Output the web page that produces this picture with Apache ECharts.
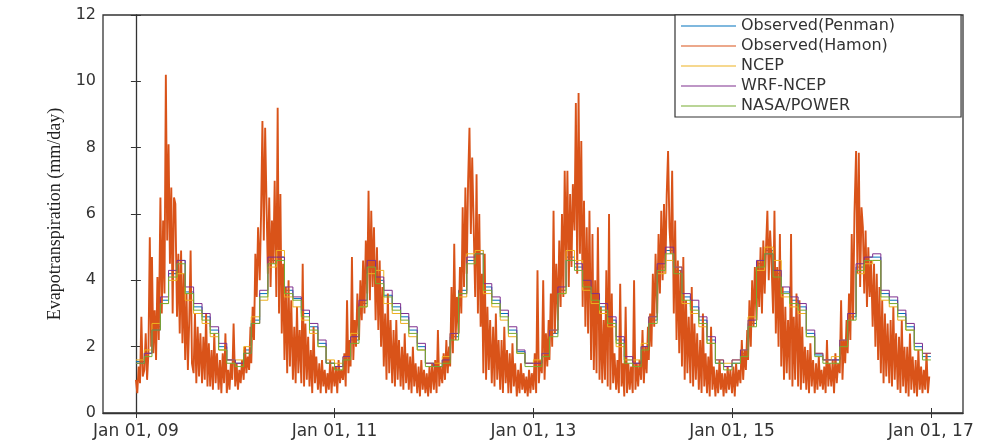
<!DOCTYPE html>
<html><head><meta charset="utf-8">
<script src="https://cdn.jsdelivr.net/npm/echarts@6/dist/echarts.min.js"></script>
<style>html,body{margin:0;padding:0;background:#fff}#c{width:993px;height:443px}</style>
</head><body><div id="c"></div>
<script>
// ---------------- data ----------------
const seriesNames = ['Observed(Penman)', 'Observed(Hamon)', 'NCEP', 'WRF-NCEP', 'NASA/POWER'];
const firstYear = 2009;
// observed (Hamon): six readings per month, on these days of the month
const subDays = [1, 6, 11, 16, 21, 26];
const hamon = [
  // 2009
  1.0,0.6,1.4,0.9,2.9,1.1,  1.3,2.4,1.0,1.8,5.3,2.0,  4.7,1.8,3.1,1.6,4.1,2.2,  6.5,3.0,5.8,3.6,10.2,5.2,
  8.1,4.5,6.8,3.0,6.5,6.3,  2.9,4.8,2.4,4.9,2.1,4.2,  1.6,3.6,1.3,2.8,4.9,1.5,  1.2,3.0,0.9,2.6,1.1,2.4,
  0.9,2.3,1.0,3.0,0.8,2.1,  0.8,1.9,0.7,2.4,0.9,1.8,  0.7,1.6,0.6,1.8,0.9,2.4,  0.6,1.3,0.7,1.5,1.0,2.7,
  // 2010
  0.8,1.5,0.7,1.3,0.9,1.6,  1.0,2.0,1.2,1.7,1.3,2.6,  1.5,3.2,2.2,4.8,3.5,5.6,  4.0,6.0,8.8,5.2,8.6,6.3,
  4.2,6.5,3.8,5.8,4.5,7.0,  3.5,9.2,3.0,6.6,2.4,4.5,  1.6,3.8,1.2,4.0,1.4,3.4,  1.0,2.6,0.9,3.2,1.2,2.5,
  0.9,4.5,0.8,2.7,1.0,2.3,  0.8,1.9,0.6,2.6,0.9,1.7,  0.7,1.5,0.6,1.6,0.8,1.3,  0.6,1.2,0.7,1.6,0.6,1.4,
  // 2011
  0.8,1.4,0.6,1.6,0.9,1.3,  1.0,1.8,0.8,3.4,1.2,2.2,  1.4,4.7,1.6,2.8,2.0,3.6,  2.2,4.0,2.8,4.6,3.0,5.2,
  3.6,6.7,3.4,6.1,3.8,5.6,  2.8,5.0,2.5,4.6,2.0,3.8,  1.4,3.0,1.0,3.6,1.2,2.8,  0.9,2.5,0.8,2.8,1.0,2.2,
  0.8,2.0,0.7,2.4,0.9,1.8,  0.7,1.7,0.6,2.0,0.8,1.5,  0.6,1.4,0.5,1.6,0.7,1.3,  0.6,1.2,0.5,1.4,0.6,1.5,
  // 2012
  0.7,1.6,0.6,2.5,0.8,1.4,  0.9,1.8,1.0,2.2,1.2,2.0,  1.4,3.8,1.8,5.1,2.2,3.5,  2.4,4.4,3.0,6.2,3.8,6.8,
  4.2,7.0,8.6,5.4,7.7,5.8,  3.5,7.2,3.0,6.0,2.6,4.2,  1.2,4.8,1.0,3.2,1.3,2.8,  0.9,2.6,0.8,3.0,1.0,2.2,
  0.7,2.2,0.6,2.6,0.9,1.9,  0.6,1.8,0.6,2.1,0.8,1.5,  0.5,1.3,0.6,1.5,0.7,1.2,  0.6,1.1,0.5,1.3,0.6,1.2,
  // 2013
  0.7,1.8,0.6,4.3,0.9,1.6,  1.2,4.0,1.0,2.4,1.4,2.8,  1.6,3.6,2.0,6.1,2.4,4.5,  2.8,5.2,3.2,6.0,3.5,7.3,
  4.6,7.3,3.8,6.6,4.4,6.9,  5.5,9.35,4.2,9.65,4.8,8.2,  3.2,6.4,2.6,5.6,2.4,6.1,  1.6,5.4,1.3,4.0,1.2,5.6,
  1.0,3.2,0.9,2.8,1.0,4.3,  0.8,6.0,0.7,3.6,0.9,1.8,  0.7,1.6,0.6,3.9,0.8,1.5,  0.5,3.2,0.6,1.5,0.7,1.4,
  // 2014
  0.6,4.0,0.7,1.5,0.8,1.6,  1.0,2.5,0.9,2.0,1.2,2.6,  1.6,3.0,2.0,4.2,2.6,4.8,  3.0,5.4,3.6,6.1,4.0,6.3,
  4.2,6.6,7.9,5.6,4.8,7.3,  3.0,5.8,2.2,4.6,1.8,4.3,  1.4,4.7,1.0,3.4,1.2,2.9,  0.9,3.8,0.8,2.7,1.0,2.4,
  0.7,2.2,0.6,3.0,0.8,1.8,  0.6,1.7,0.5,2.6,0.7,1.4,  0.5,1.3,0.6,1.6,0.7,1.2,  0.5,1.2,0.6,1.4,0.7,1.3,
  // 2015
  0.6,1.4,0.5,1.5,0.8,1.3,  0.9,2.2,1.0,1.9,1.3,2.5,  1.6,3.4,2.0,4.0,2.6,4.4,  2.8,4.6,3.2,5.0,3.0,5.2,
  3.6,5.0,6.1,4.0,5.5,4.6,  3.0,6.1,2.4,4.4,2.0,5.4,  1.4,3.8,1.0,3.2,1.2,2.8,  1.0,5.4,0.8,2.9,1.0,3.6,
  0.8,3.4,0.7,2.6,0.9,2.0,  0.7,1.9,0.6,2.1,0.8,1.6,  0.6,1.5,0.7,1.7,0.8,1.3,  0.7,1.4,0.6,2.2,0.8,1.5,
  // 2016
  0.8,1.6,0.6,1.8,0.9,1.5,  1.2,3.4,1.0,2.2,1.5,2.8,  1.8,3.6,2.2,5.4,2.8,6.0,  7.9,4.2,7.85,3.8,6.2,5.6,
  3.6,5.5,3.2,5.0,3.5,4.6,  2.6,4.5,2.0,4.2,1.6,3.8,  1.2,3.4,0.9,3.0,1.1,2.7,  0.9,2.8,0.8,3.2,1.0,2.4,
  0.7,2.3,0.6,2.8,0.8,2.0,  0.6,2.0,0.5,2.4,0.7,1.7,  0.6,1.6,0.5,1.9,0.7,1.4,  0.6,1.3,0.7,1.8,0.6,1.1
];
// monthly means, Jan 2009 ... Dec 2016
const penman = [
  1.55,1.8,2.6,3.4,4.2,4.6,3.65,3.2,2.9,2.5,2.0,1.6,
  1.5,1.9,2.8,3.6,4.6,4.7,3.7,3.45,3.0,2.6,2.1,1.5,
  1.4,1.6,2.2,3.3,4.5,4.0,3.55,3.2,2.9,2.5,2.0,1.5,
  1.4,1.6,2.3,3.7,4.6,4.9,3.8,3.4,3.0,2.5,1.85,1.5,
  1.5,1.7,2.4,3.7,4.7,4.4,3.9,3.5,3.2,2.8,2.2,1.6,
  1.5,2.0,2.8,4.4,4.9,4.3,3.5,3.2,2.8,2.2,1.5,1.4,
  1.5,1.8,2.7,4.5,4.9,4.2,3.65,3.4,3.2,2.4,1.75,1.6,
  1.6,2.1,2.9,4.4,4.7,4.7,3.6,3.4,3.0,2.6,2.0,1.7
];
const ncep = [
  1.6,1.9,2.7,3.3,4.0,4.2,3.4,3.0,2.7,2.3,1.9,1.6,
  1.6,2.0,2.9,3.4,4.4,4.9,3.5,3.2,2.8,2.4,2.0,1.6,
  1.5,1.7,2.4,3.2,4.2,4.3,3.3,3.0,2.7,2.3,1.9,1.5,
  1.5,1.7,2.4,3.5,4.8,4.9,3.6,3.2,2.8,2.3,1.8,1.5,
  1.6,1.8,2.5,3.6,4.9,4.6,3.7,3.3,3.0,2.6,2.0,1.6,
  1.6,2.1,2.9,4.2,4.6,4.4,3.3,3.0,2.6,2.1,1.6,1.5,
  1.6,1.9,2.9,4.3,5.0,4.6,3.5,3.2,3.0,2.3,1.8,1.6,
  1.7,2.2,3.0,4.2,4.5,4.6,3.4,3.2,2.8,2.5,1.9,1.8
];
const wrf = [
  1.5,1.8,2.5,3.5,4.3,4.6,3.8,3.3,3.0,2.6,2.1,1.6,
  1.5,1.8,2.7,3.7,4.7,4.7,3.8,3.5,3.1,2.7,2.2,1.5,
  1.4,1.7,2.3,3.4,4.6,4.1,3.7,3.3,3.0,2.6,2.1,1.5,
  1.4,1.6,2.4,3.6,4.7,4.8,3.9,3.5,3.1,2.6,1.9,1.5,
  1.5,1.8,2.5,3.8,4.6,4.5,4.0,3.6,3.3,2.9,2.3,1.7,
  1.5,2.0,2.9,4.5,5.0,4.4,3.6,3.4,2.9,2.3,1.6,1.4,
  1.6,1.9,2.8,4.6,4.8,4.3,3.8,3.5,3.3,2.5,1.8,1.6,
  1.6,2.2,3.0,4.5,4.7,4.8,3.7,3.5,3.1,2.7,2.1,1.8
];
const nasa = [
  1.5,1.7,2.5,3.3,4.1,4.5,3.6,3.1,2.8,2.4,1.9,1.5,
  1.4,1.8,2.7,3.5,4.5,4.6,3.6,3.4,2.9,2.5,2.0,1.5,
  1.3,1.6,2.1,3.2,4.4,3.9,3.5,3.1,2.8,2.4,1.9,1.4,
  1.4,1.5,2.2,3.6,4.5,4.8,3.7,3.3,2.9,2.4,1.8,1.4,
  1.4,1.7,2.3,3.6,4.6,4.3,3.8,3.4,3.1,2.7,2.1,1.5,
  1.4,1.9,2.7,4.3,4.8,4.2,3.4,3.1,2.7,2.1,1.5,1.3,
  1.5,1.7,2.6,4.4,4.8,4.1,3.6,3.3,3.1,2.3,1.7,1.5,
  1.5,2.0,2.8,4.3,4.6,4.6,3.5,3.3,2.9,2.5,1.9,1.6
];
const xTickYears = [2009, 2011, 2013, 2015, 2017];
const xTickLabels = ['Jan 01, 09', 'Jan 01, 11', 'Jan 01, 13', 'Jan 01, 15', 'Jan 01, 17'];
const yMin = 0, yMax = 12, yStep = 2;
const colors = ['#0072BD', '#D95319', '#EDB120', '#7E2F8E', '#77AC30'];

// ---------------- build ----------------
const DAY = 86400000;
const T0 = Date.UTC(firstYear, 0, 1);
const dayNum = (y, m, d) => Math.round((Date.UTC(y, m, d) - T0) / DAY);
const hamonPts = hamon.map((v, i) => {
  const mi = Math.floor(i / subDays.length), k = i % subDays.length;
  return [dayNum(firstYear + Math.floor(mi / 12), mi % 12, subDays[k]), v];
});
const monthly = arr => {
  const pts = arr.map((v, i) => [dayNum(firstYear + Math.floor(i / 12), i % 12, 1), v]);
  const n = arr.length;
  pts.push([dayNum(firstYear + Math.floor(n / 12), n % 12, 1), arr[n - 1]]);
  return pts;
};
const xTicks = xTickYears.map(y => dayNum(y, 0, 1));
const tickLabelOf = v => { const i = xTicks.indexOf(v); return i >= 0 ? xTickLabels[i] : ''; };

const axisCol = '#333';
const labFont = 'DejaVu Sans, sans-serif';
const xMin = -121, xMax = 3040;

const mk = (name, data, color, step, width) => ({
  name, type: 'line', data, step: step ? 'end' : false,
  symbol: 'none', showSymbol: false,
  lineStyle: { color, width }, itemStyle: { color }, color,
  animation: false, silent: true, z: 2
});

const chart = echarts.init(document.getElementById('c'), null, { renderer: 'canvas' });
chart.setOption({
  backgroundColor: '#fff',
  animation: false,
  grid: { left: 103, right: 30, top: 15, bottom: 30, show: true, borderColor: axisCol, borderWidth: 1.3, backgroundColor: 'transparent' },
  legend: {
    orient: 'vertical', left: 675, top: 15,
    data: seriesNames,
    icon: 'rect',
    itemWidth: 55, itemHeight: 1, itemGap: 4,
    padding: [3, 66, 3, 6],
    borderColor: axisCol, borderWidth: 1.2, backgroundColor: '#fff',
    textStyle: { fontFamily: labFont, fontSize: 16, color: '#333', lineHeight: 15 },
    z: 10
  },
  xAxis: [{
    type: 'value', min: xMin, max: xMax,
    axisLine: { show: true, lineStyle: { color: axisCol, width: 1.3 } },
    axisTick: { show: true, inside: true, length: 5, customValues: xTicks, lineStyle: { color: axisCol } },
    axisLabel: { show: true, customValues: xTicks, formatter: tickLabelOf, fontFamily: labFont, fontSize: 17, color: '#333', margin: 10 },
    splitLine: { show: false }
  }, {
    type: 'value', min: xMin, max: xMax, position: 'top',
    axisLine: { show: false },
    axisTick: { show: true, inside: true, length: 5, customValues: xTicks, lineStyle: { color: axisCol } },
    axisLabel: { show: false },
    splitLine: { show: false }
  }],
  yAxis: [{
    type: 'value', min: yMin, max: yMax, interval: yStep,
    name: 'Evapotranspiration (mm/day)', nameLocation: 'middle', nameGap: 38,
    nameTextStyle: { fontFamily: 'Liberation Serif, Times New Roman, serif', fontSize: 18, color: '#222' },
    axisLine: { show: true, lineStyle: { color: axisCol, width: 1.3 } },
    axisTick: { show: true, inside: true, length: 5, lineStyle: { color: axisCol } },
    axisLabel: { fontFamily: labFont, fontSize: 16, color: '#333', margin: 7 },
    splitLine: { show: false }
  }, {
    type: 'value', min: yMin, max: yMax, interval: yStep, position: 'right',
    axisLine: { show: false },
    axisTick: { show: true, inside: true, length: 5, lineStyle: { color: axisCol } },
    axisLabel: { show: false },
    splitLine: { show: false }
  }],
  series: [
    mk(seriesNames[0], monthly(penman), colors[0], true, 1),
    mk(seriesNames[1], hamonPts, colors[1], false, 1.9),
    mk(seriesNames[2], monthly(ncep), colors[2], true, 1),
    mk(seriesNames[3], monthly(wrf), colors[3], true, 1),
    mk(seriesNames[4], monthly(nasa), colors[4], true, 1)
  ]
});
</script>
</body></html>
